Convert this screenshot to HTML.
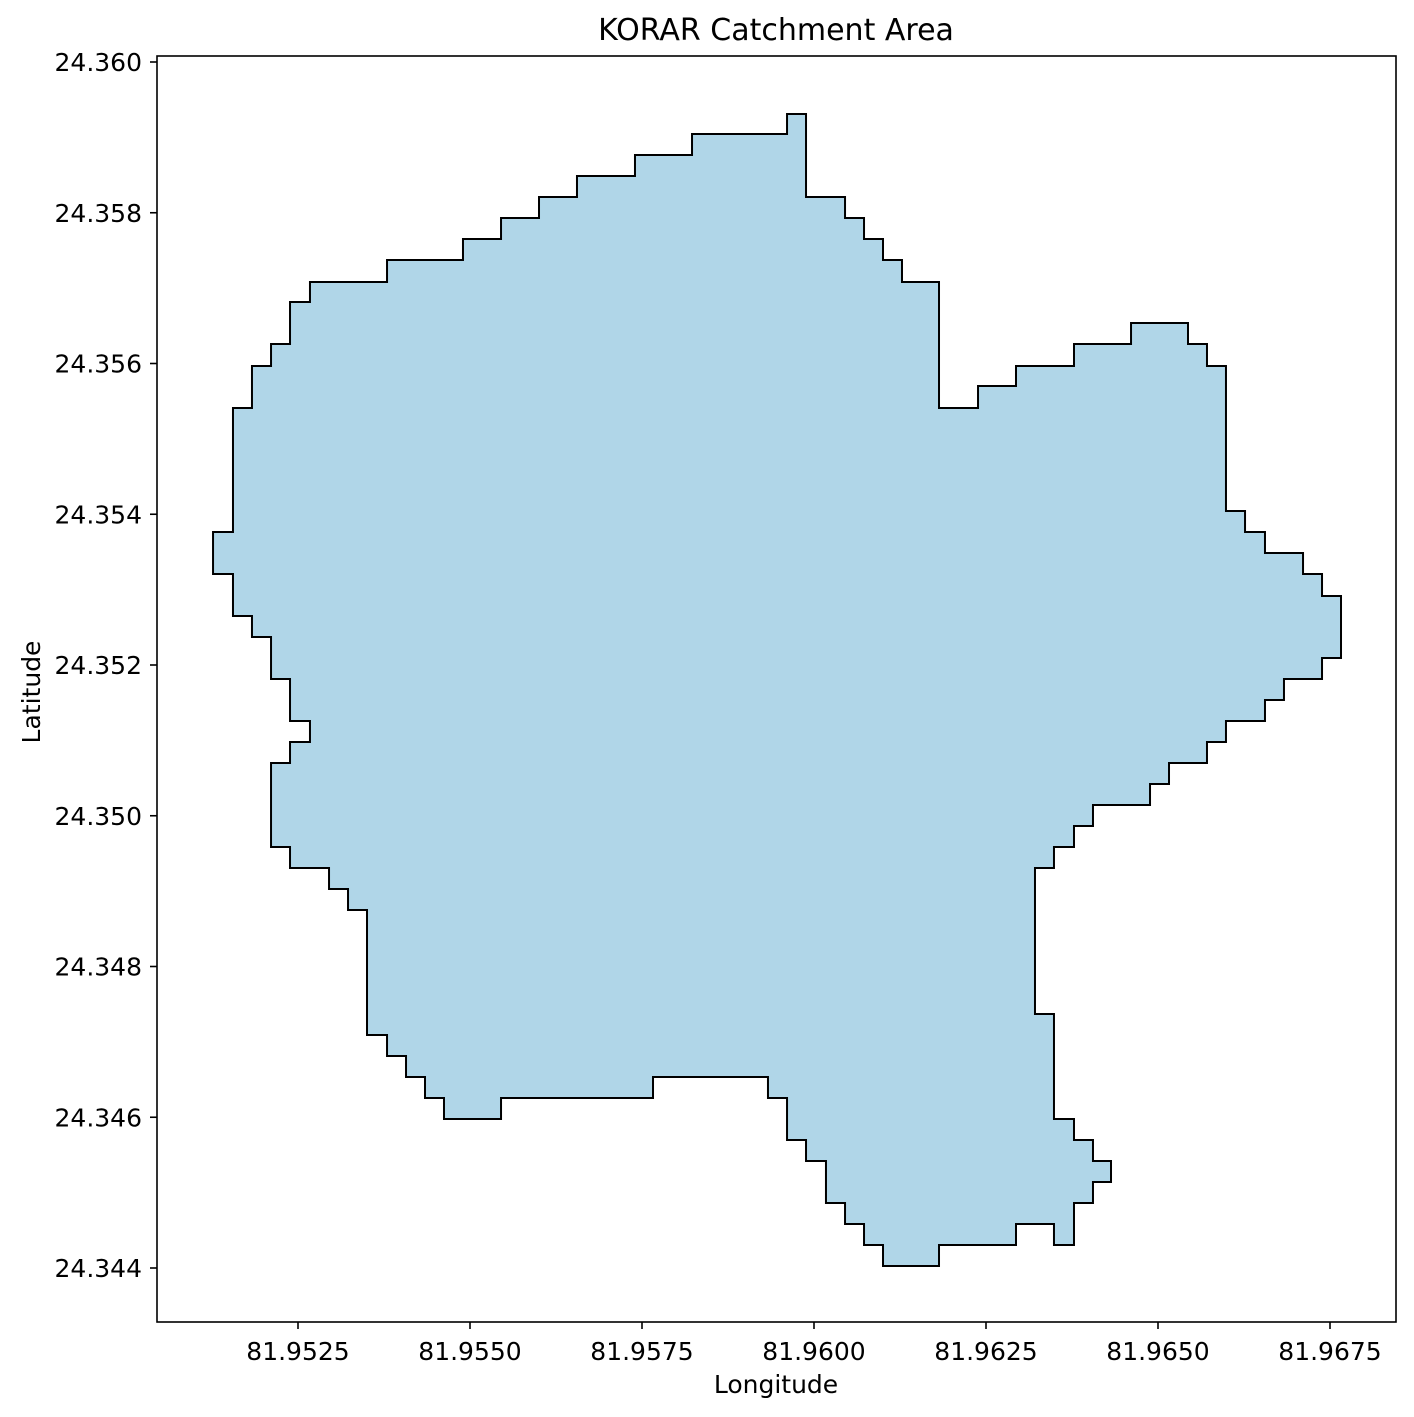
<!DOCTYPE html>
<html><head><meta charset="utf-8"><style>
html,body{margin:0;padding:0;background:#fff;}
svg{display:block;font-family:"DejaVu Sans","Liberation Sans",sans-serif;}
</style></head><body>
<svg id="chart" width="1414" height="1417" viewBox="0 0 1414 1417">
<text x="776" y="40" font-size="30" text-anchor="middle">KORAR Catchment Area</text>
<g id="plot"></g>
<rect x="157" y="56" width="1239" height="1266" fill="none" stroke="#000" stroke-width="1.6"/>
<text x="776" y="1393" font-size="25" text-anchor="middle">Longitude</text>
<text transform="translate(40,692) rotate(-90)" font-size="25" text-anchor="middle">Latitude</text>
<g id="xticks"></g><g id="yticks"></g>
</svg>
<script>
// Polygon boundary: rectilinear outline; vertices (lonSteps[0],latSteps[0]),(lonSteps[1],latSteps[0]),(lonSteps[1],latSteps[1]),...
const lonSteps=[81.951265,81.951555,81.951831,81.952108,81.952384,81.952674,81.953794,81.954898,81.955451,81.956003,81.956555,81.957398,81.958227,81.959608,81.959884,81.960451,81.960727,81.961003,81.961279,81.961817,81.962384,81.962936,81.963779,81.964608,81.965436,81.965712,81.965988,81.966265,81.966555,81.967108,81.967384,81.967660,81.967384,81.966831,81.966555,81.965988,81.965712,81.965160,81.964884,81.964055,81.963779,81.963488,81.963212,81.963488,81.963779,81.964055,81.964317,81.964055,81.963779,81.963488,81.962936,81.961817,81.961003,81.960727,81.960451,81.960174,81.959884,81.959608,81.959331,81.957660,81.955451,81.954622,81.954346,81.954070,81.953794,81.953503,81.953227,81.952951,81.952384,81.952108,81.952384,81.952674,81.952384,81.952108,81.951831,81.951555,81.951265];
const latSteps=[24.353765,24.355410,24.355967,24.356259,24.356816,24.357081,24.357373,24.357652,24.357930,24.358209,24.358488,24.358766,24.359045,24.359310,24.358209,24.357930,24.357652,24.357373,24.357081,24.355410,24.355701,24.355967,24.356259,24.356537,24.356259,24.355967,24.354043,24.353765,24.353486,24.353207,24.352915,24.352093,24.351814,24.351536,24.351257,24.350978,24.350700,24.350421,24.350143,24.349864,24.349585,24.349307,24.347370,24.345977,24.345698,24.345420,24.345141,24.344862,24.344305,24.344584,24.344305,24.344027,24.344305,24.344584,24.344862,24.345420,24.345698,24.346255,24.346534,24.346255,24.345977,24.346255,24.346534,24.346813,24.347091,24.348750,24.349028,24.349307,24.349585,24.350700,24.350978,24.351257,24.351814,24.352371,24.352650,24.353207];
const xTickVals=[81.9525,81.9550,81.9575,81.9600,81.9625,81.9650,81.9675];
const xTickLabels=["81.9525","81.9550","81.9575","81.9600","81.9625","81.9650","81.9675"];
const yTickVals=[24.344,24.346,24.348,24.350,24.352,24.354,24.356,24.358,24.360];
const yTickLabels=["24.344","24.346","24.348","24.350","24.352","24.354","24.356","24.358","24.360"];

const NS="http://www.w3.org/2000/svg";
function xS(v){return 814+(v-81.96)*68800;}
function yS(v){return 1268-(v-24.344)*75375;}

let d="M"+xS(lonSteps[0])+","+yS(latSteps[0]);
for(let k=0;k<latSteps.length;k++){
  d+=" L"+xS(lonSteps[k+1])+","+yS(latSteps[k]);
  if(k+1<latSteps.length) d+=" L"+xS(lonSteps[k+1])+","+yS(latSteps[k+1]);
}
d+=" L"+xS(lonSteps[lonSteps.length-1])+","+yS(latSteps[0])+" Z";
const p=document.createElementNS(NS,"path");
p.setAttribute("d",d);
p.setAttribute("fill","#b0d6e8");
p.setAttribute("stroke","#000");
p.setAttribute("stroke-width","2");


document.getElementById("plot").appendChild(p);

const xt=document.getElementById("xticks");
xTickVals.forEach((v,i)=>{
  const x=xS(v);
  const l=document.createElementNS(NS,"line");
  l.setAttribute("x1",x);l.setAttribute("x2",x);l.setAttribute("y1",1322);l.setAttribute("y2",1329);
  l.setAttribute("stroke","#000");l.setAttribute("stroke-width","1.6");
  
  
  xt.appendChild(l);
  const t=document.createElementNS(NS,"text");
  t.setAttribute("x",x);t.setAttribute("y",1360);t.setAttribute("font-size","25");t.setAttribute("text-anchor","middle");
  t.textContent=xTickLabels[i];
  
  
  xt.appendChild(t);
});
const yt=document.getElementById("yticks");
yTickVals.forEach((v,i)=>{
  const y=yS(v);
  const l=document.createElementNS(NS,"line");
  l.setAttribute("x1",150);l.setAttribute("x2",157);l.setAttribute("y1",y);l.setAttribute("y2",y);
  l.setAttribute("stroke","#000");l.setAttribute("stroke-width","1.6");
  
  
  yt.appendChild(l);
  const t=document.createElementNS(NS,"text");
  t.setAttribute("x",142);t.setAttribute("y",y+9);t.setAttribute("font-size","25");t.setAttribute("text-anchor","end");
  t.textContent=yTickLabels[i];
  
  
  yt.appendChild(t);
});
</script>
</body></html>
